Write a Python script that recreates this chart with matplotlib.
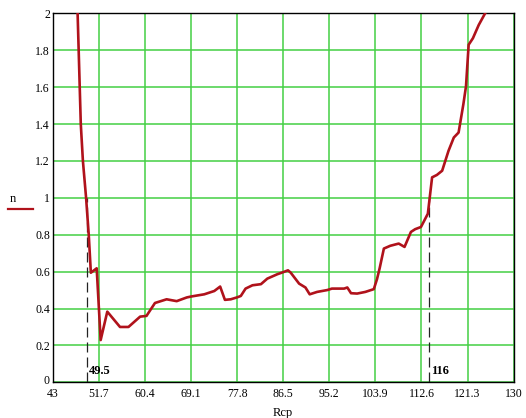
import matplotlib
matplotlib.use("Agg")
import matplotlib.pyplot as plt
import matplotlib.transforms as mtransforms
from matplotlib.lines import Line2D

plt.rcParams['font.family'] = ['Liberation Serif', 'DejaVu Serif']

# data
rcp = [47.7, 47.9, 48.1, 48.3, 48.7, 49.3, 49.8, 50.2, 51.3, 52.05, 53.3, 55.7, 57.3,
       59.5, 60.7, 62.3, 64.5, 66.4, 68.3, 69.1, 71.6, 73.5, 74.6, 75.5, 76.6, 77.75,
       78.5, 79.4, 80.7, 82.3, 83.5, 85.4, 86.3, 87.4, 87.9, 89.5, 90.7, 91.5, 92.9,
       94.8, 95.7, 98.0, 98.6, 99.3, 100.45, 102.0, 103.6, 104.2, 104.7, 105.5, 106.7,
       108.3, 109.4, 110.6, 111.4, 112.5, 113.8, 114.6, 115.5, 116.5, 117.7, 118.7,
       119.6, 120.5, 121.0, 121.5, 122.3, 123.4, 124.6]
n = [2.0, 1.8, 1.6, 1.4, 1.2, 1.0, 0.8, 0.594, 0.618, 0.229, 0.383, 0.30, 0.30,
     0.356, 0.36, 0.43, 0.45, 0.44, 0.46, 0.465, 0.477, 0.495, 0.519, 0.447, 0.45, 0.46,
     0.468, 0.508, 0.526, 0.532, 0.562, 0.586, 0.595, 0.607, 0.595, 0.535, 0.514, 0.477, 0.49,
     0.50, 0.508, 0.508, 0.514, 0.483, 0.481, 0.49, 0.505, 0.559, 0.618, 0.725, 0.74,
     0.752, 0.734, 0.815, 0.83, 0.842, 0.914, 1.111, 1.124, 1.147, 1.255, 1.327,
     1.354, 1.507, 1.605, 1.83, 1.865, 1.937, 2.0]

x_ticks = [43, 51.7, 60.4, 69.1, 77.8, 86.5, 95.2, 103.9, 112.6, 121.3, 130]
x_tick_labels = ["43", "51.7", "60.4", "69.1", "77.8", "86.5", "95.2", "103.9", "112.6", "121.3", "130"]
y_ticks = [0, 0.2, 0.4, 0.6, 0.8, 1.0, 1.2, 1.4, 1.6, 1.8, 2.0]
y_tick_labels = ["0", "0.2", "0.4", "0.6", "0.8", "1", "1.2", "1.4", "1.6", "1.8", "2"]

marker_x = [49.4, 114.0]
marker_labels = ["49.5", "116"]
marker_top = 1.0

fig = plt.figure(figsize=(5.26, 4.18), dpi=100)
ax = fig.add_axes([0.1002, 0.0854, 0.8764, 0.8826])
ax.set_xlim(43, 130)
ax.set_ylim(0, 2)

ax.set_xticks(x_ticks)
ax.set_xticklabels(x_tick_labels)
ax.set_yticks(y_ticks)
ax.set_yticklabels(y_tick_labels)
ax.tick_params(length=0, labelsize=8.5)
ax.tick_params(axis='x', pad=4)
ax.tick_params(axis='y', pad=2)

# lift the "0" label a little above the corner, as in the reference
zero_lbl = ax.get_yticklabels()[0]
zero_lbl.set_transform(zero_lbl.get_transform() +
                       mtransforms.ScaledTranslation(0, 3 / 100, fig.dpi_scale_trans))

ax.grid(True, color='#44d044', linewidth=1.1)
ax.set_axisbelow(True)
for s in ax.spines.values():
    s.set_color('black')
    s.set_linewidth(1.0)

for mx, ml in zip(marker_x, marker_labels):
    ax.plot([mx, mx], [0, marker_top], color='#222222', lw=0.9, ls=(0, (8, 4)), zorder=3)
    ax.text(mx + 0.4, 0.03, ml, fontsize=9, fontweight='bold', ha='left', va='bottom', zorder=5)

ax.plot(rcp, n, color='#b0121b', lw=1.9, zorder=4, solid_joinstyle='round')

ax.set_xlabel("Rcp", fontsize=9, labelpad=5)

fig.text(13 / 526, 1 - 199 / 418, "n", fontsize=9, ha='center', va='center')
fig.add_artist(Line2D([8 / 526, 33 / 526], [1 - 209 / 418, 1 - 209 / 418],
                      color='#b0121b', lw=1.6, transform=fig.transFigure))

fig.savefig("out.png", dpi=100)
